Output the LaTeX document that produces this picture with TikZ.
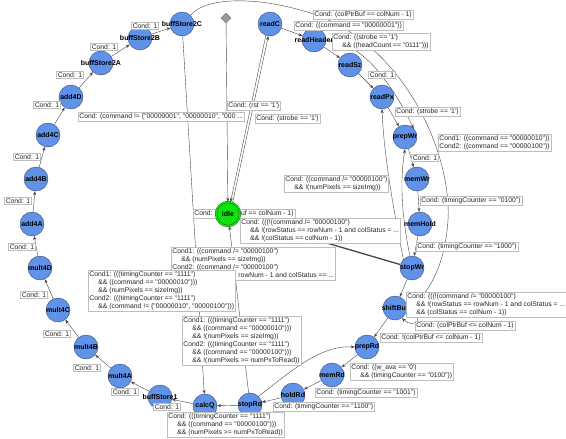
\documentclass[tikz,border=0pt]{standalone}
\usepackage{fontspec}
\usepackage{tikz}
\usetikzlibrary{arrows.meta,shapes.geometric,backgrounds}
\newfontfamily\diagfont{Liberation Sans}
\definecolor{statefill}{RGB}{96,146,232}
\definecolor{stateline}{RGB}{52,72,120}
\definecolor{idlefill}{RGB}{16,226,16}
\definecolor{idleline}{RGB}{20,100,20}
\definecolor{edgeline}{RGB}{70,70,70}
\definecolor{boxline}{RGB}{190,190,190}
\newcommand{\ind}{\hspace*{9pt}}
\newcommand{\nm}[1]{\makebox[0pt][c]{#1}}

\begin{document}
\begin{tikzpicture}[x=1pt,y=-1pt,
    state/.style={circle,draw=stateline,fill=statefill,minimum size=24pt,inner sep=0pt,
      font=\diagfont\fontsize{7}{8}\selectfont\bfseries},
    idlestate/.style={state,fill=idlefill,draw=idleline,double=idlefill,double distance=1.3pt},
    initial/.style={diamond,draw=black!60,fill=black!40,minimum size=10pt,inner sep=0pt},
    cond/.style={draw=boxline,fill=white,inner sep=1.2pt,align=left,anchor=north west,
      text=black!85,font=\diagfont\fontsize{6.8}{8}\selectfont},
    one/.style={cond,anchor=center},
    trans/.style={draw=edgeline,-{Stealth[length=4pt,width=3pt]}}]
    \useasboundingbox (0,0) rectangle (566,439);

    \node[state] (buffStore2C) at (182,24) {\nm{buffStore2C}};
    \node[state] (buffStore2B) at (140,38) {\nm{buffStore2B}};
    \node[state] (buffStore2A) at (101,63) {\nm{buffStore2A}};
    \node[state] (add4D) at (71,97) {\nm{add4D}};
    \node[state] (add4C) at (48,135) {\nm{add4C}};
    \node[state] (add4B) at (36,179) {\nm{add4B}};
    \node[state] (add4A) at (32,224) {\nm{add4A}};
    \node[state] (mult4D) at (40,268) {\nm{mult4D}};
    \node[state] (mult4C) at (58,310) {\nm{mult4C}};
    \node[state] (mult4B) at (86,347) {\nm{mult4B}};
    \node[state] (mult4A) at (120,376) {\nm{mult4A}};
    \node[state] (buffStore1) at (160,397) {\nm{buffStore1}};
    \node[state] (calcQ) at (205,406) {\nm{calcQ}};
    \node[state] (stopRd) at (250,405) {\nm{stopRd}};
    \node[state] (holdRd) at (293,395) {\nm{holdRd}};
    \node[state] (memRd) at (332,375) {\nm{memRd}};
    \node[state] (prepRd) at (367,347) {\nm{prepRd}};
    \node[state] (shiftBuf) at (395,308) {\nm{shiftBuf}};
    \node[state] (stopWr) at (412,268) {\nm{stopWr}};
    \node[state] (memHold) at (420,224) {\nm{memHold}};
    \node[state] (memWr) at (417,179) {\nm{memWr}};
    \node[state] (prepWr) at (405,137) {\nm{prepWr}};
    \node[state] (readPx) at (382,97) {\nm{readPx}};
    \node[state] (readSz) at (350,65) {\nm{readSz}};
    \node[state] (readHeader) at (314,40) {\nm{readHeader}};
    \node[state] (readC) at (270,24) {\nm{readC}};
    \node[initial] (init) at (226,18) {};

    \node[cond] (cIdleB2C) at (193,209) {Cond: !(colPtrBuf == colNum - 1)};
    \node[idlestate] (idle) at (228,214) {\nm{idle}};

    \node[one] (c1) at (145,26) {Cond: 1};
    \node[one] (c2) at (104,47) {Cond: 1};
    \node[one] (c3) at (70,75) {Cond: 1};
    \node[one] (c4) at (47,105) {Cond: 1};
    \node[one] (c5) at (27,157) {Cond: 1};
    \node[one] (c6) at (18,201) {Cond: 1};
    \node[one] (c7) at (22,247) {Cond: 1};
    \node[one] (c8) at (34,295) {Cond: 1};
    \node[one] (c9) at (57,334) {Cond: 1};
    \node[one] (c10) at (87,368) {Cond: 1};
    \node[one] (c11) at (125,392) {Cond: 1};
    \node[one] (c12) at (167,407) {Cond: 1};
    \node[one] (cSzPx) at (382,75) {Cond: 1};
    \node[one] (cPrepMem) at (425,158) {Cond: 1};

    \node[cond] (cArc) at (313,10) {Cond: (colPtrBuf == colNum - 1)};
    \node[cond] (cHeader) at (294,21) {Cond: ((command == "00000001"))};
    \node[cond] (cSz) at (332,33) {Cond: ((strobe == '1')\\\ind\&\& ((headCount == "0111")))};
    \node[cond] (cPrepWr) at (395,107) {Cond: (strobe == '1')};
    \node[cond] (cCmd) at (438,134) {Cond1: ((command == "00000010"))\\Cond2: ((command == "00000100"))};
    \node[cond] (cHold) at (420,196) {Cond: (timingCounter == "0100")};
    \node[cond] (cStopWr) at (416,242) {Cond: (timingCounter == "1000")};
    \node[cond] (cBackPx) at (284,175) {Cond: ((command /= "00000100")\\\ind\&\& !(numPixels == sizeImg))};
    \node[cond] (cBackWr) at (240,218) {Cond: (((!(command /= "00000100")\\\ind\&\& !(rowStatus == rowNum - 1 and colStatus = ...\\\ind\&\& !(colStatus == colNum - 1))};
    \node[cond] (cNoCmd) at (78,112) {Cond: (command != \{"00000001", "00000010", "000 ...};
    \node[cond] (cRst) at (227,101) {Cond: (rst == '1')};
    \node[cond] (cStrobe) at (255,114) {Cond: (strobe == '1')};
    \node[cond] (cWrIdle) at (171,247) {Cond1: ((command /= "00000100")\\\ind\&\& (numPixels == sizeImg))\\Cond2: ((command /= "00000100")\\\ind\&\& !(rowStatus == rowNum - 1 and colStatus == ...};
    \node[cond] (cRdIdle) at (88,270) {Cond1: (((timingCounter == "1111")\\\ind\&\& ((command == "00000010")))\\\ind\&\& (numPixels == sizeImg))\\Cond2: (((timingCounter == "1111")\\\ind\&\& (command != \{"00000010", "00000100"\}))};
    \node[cond] (cRdAgain) at (182,316) {Cond1: (((timingCounter == "1111")\\\ind\&\& ((command == "00000010")))\\\ind\&\& !(numPixels == sizeImg))\\Cond2: (((timingCounter == "1111")\\\ind\&\& ((command == "00000100")))\\\ind\&\& !(numPixels >= numPxToRead))};
    \node[cond] (cCalc) at (167,412) {Cond: (((timingCounter == "1111")\\\ind\&\& ((command == "00000100")))\\\ind\&\& (numPixels >= numPxToRead))};
    \node[cond] (cShift) at (406,292) {Cond: (((!(command /= "00000100")\\\ind\&\& !(rowStatus == rowNum - 1 and colStatus = ...\\\ind\&\& (colStatus == colNum - 1))};
    \node[cond] (cLoop) at (415,321) {Cond: (colPtrBuf <= colNum - 1)};
    \node[cond] (cPrepRd) at (380,333) {Cond: !(colPtrBuf <= colNum - 1)};
    \node[cond] (cMemRd) at (350,363) {Cond: ((w\_ava == '0')\\\ind\&\& (timingCounter == "0100"))};
    \node[cond] (cHoldRd) at (315,388) {Cond: (timingCounter == "1001")};
    \node[cond] (cStopRd) at (273,402) {Cond: (timingCounter == "1100")};

    \begin{pgfonlayer}{background}
    \draw[trans] (buffStore1) -- (mult4A);
    \draw[trans] (mult4A) -- (mult4B);
    \draw[trans] (mult4B) -- (mult4C);
    \draw[trans] (mult4C) -- (mult4D);
    \draw[trans] (mult4D) -- (add4A);
    \draw[trans] (add4A) -- (add4B);
    \draw[trans] (add4B) -- (add4C);
    \draw[trans] (add4C) -- (add4D);
    \draw[trans] (add4D) -- (buffStore2A);
    \draw[trans] (buffStore2A) -- (buffStore2B);
    \draw[trans] (buffStore2B) -- (buffStore2C);
    \draw[trans] (calcQ) -- (buffStore1);
    \draw[trans] (stopRd) -- (calcQ);
    \draw[trans] (holdRd) -- (stopRd);
    \draw[trans] (memRd) -- (holdRd);
    \draw[trans] (prepRd) -- (memRd);
    \draw[trans] (shiftBuf) -- (prepRd);
    \draw[trans] (stopWr) -- (shiftBuf);
    \draw[trans] (memHold) -- (stopWr);
    \draw[trans] (memWr) -- (memHold);
    \draw[trans] (prepWr) -- (memWr);
    \draw[trans] (readPx) -- (prepWr);
    \draw[trans] (readSz) -- (readPx);
    \draw[trans] (readHeader) -- (readSz);
    \draw[trans] (readC) -- (readHeader);
    \draw[trans] (init) -- (idle);
    \draw[trans] (idle.68) -- (readC.262);
    \draw[trans] (readC.250) -- (idle.78);
    \draw[trans,line width=1.3pt] (stopWr) -- (idle);
    \draw[trans] (stopRd) -- (idle);
    \draw[trans] (buffStore2C) -- (calcQ);
    \draw[trans] (stopRd.north east) .. controls (290,372) and (320,345) .. (prepRd.west);
    \draw[trans] (shiftBuf.-15) .. controls (428,316) and (414,330) .. (shiftBuf.-55);
    \draw[trans] (stopWr.north west) .. controls (396,222) and (384,160) .. (readPx.south);
    \draw[trans] (stopWr.100) .. controls (403,222) and (399,185) .. (prepWr.south);
    \draw[trans] (readHeader.east) .. controls (365,42) and (395,90) .. (prepWr.north east);
    \draw[trans] (buffStore2C.north east) .. controls (205,-3) and (255,-3) .. (300,10)
      .. controls (400,35) and (452,150) .. (448,220)
      .. controls (445,270) and (425,298) .. (shiftBuf.east);
    \end{pgfonlayer}
\end{tikzpicture}
\end{document}
